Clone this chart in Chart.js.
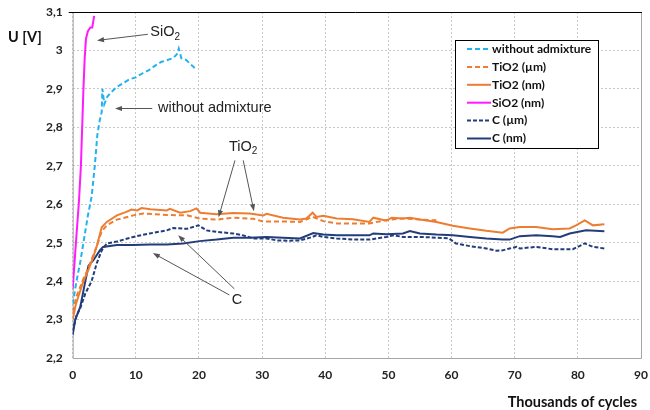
<!DOCTYPE html>
<html>
<head>
<meta charset="utf-8">
<script src="https://cdn.jsdelivr.net/npm/chart.js@4/dist/chart.umd.min.js"></script>
<style>
  html, body { margin: 0; padding: 0; background: #fff; }
  #wrap { width: 650px; height: 410px; position: relative; }
</style>
</head>
<body>
<div id="wrap"><canvas id="chart"></canvas></div>
<script>
// --- data: [thousands of cycles, U in V] ---
const noAdmix = [[0,2.34],[0.6,2.40],[1.2,2.45],[1.8,2.51],[2.4,2.57],[3.0,2.62],[3.5,2.70],[3.9,2.78],[4.3,2.82],[4.6,2.84],[4.7,2.90],[5.0,2.86],[5.5,2.88],[6,2.89],[7,2.905],[8,2.915],[9,2.925],[10,2.93],[11,2.94],[12,2.948],[13,2.96],[14,2.97],[15,2.975],[15.9,2.98],[16.5,2.99],[16.8,3.005],[17.2,2.98],[18,2.975],[18.6,2.965],[19.1,2.958],[19.5,2.95]];
const tio2Um = [[0,2.32],[0.6,2.36],[1.2,2.385],[1.8,2.41],[2.5,2.435],[3.2,2.465],[3.8,2.49],[4.6,2.53],[5.4,2.545],[7,2.56],[9.6,2.571],[11.2,2.576],[14.9,2.572],[18.1,2.571],[20.1,2.563],[22.8,2.56],[25.4,2.565],[28.6,2.562],[30.2,2.555],[33.3,2.555],[36,2.554],[38,2.567],[39.7,2.556],[41.8,2.55],[44.4,2.55],[47,2.55],[49.7,2.559],[52.3,2.563],[55,2.56],[57.6,2.558]];
const tio2Nm = [[0,2.30],[0.5,2.34],[1.2,2.375],[1.7,2.40],[2.5,2.43],[3.2,2.46],[3.8,2.49],[4.6,2.54],[5.4,2.554],[7,2.571],[8.5,2.58],[9.3,2.586],[10.2,2.584],[10.9,2.59],[12.3,2.587],[14.9,2.584],[15.4,2.588],[17,2.578],[18.6,2.582],[19.6,2.589],[20.2,2.578],[22.8,2.574],[25.4,2.577],[28,2.576],[30.2,2.571],[30.7,2.575],[33.3,2.565],[36,2.56],[37,2.563],[38,2.578],[38.6,2.567],[39.7,2.57],[41.8,2.563],[44.4,2.561],[47,2.554],[47.6,2.565],[49.7,2.557],[50.5,2.565],[52.3,2.563],[53.4,2.565],[55,2.56],[57.6,2.554],[60.2,2.544],[62.9,2.537],[65.5,2.531],[68.1,2.526],[69.2,2.537],[70.8,2.541],[73.4,2.541],[76,2.535],[78.7,2.537],[79.7,2.545],[81.1,2.558],[82.4,2.545],[84.2,2.548]];
const sio2Nm = [[0,2.38],[0.3,2.45],[0.6,2.52],[1.0,2.61],[1.3,2.70],[1.5,2.80],[1.7,2.90],[1.9,2.98],[2.1,3.03],[2.4,3.05],[2.8,3.06],[3.1,3.06],[3.3,3.08],[3.4,3.09]];
const cUm = [[0,2.27],[0.6,2.31],[1.2,2.33],[2,2.368],[3,2.40],[3.8,2.446],[4.6,2.48],[5.4,2.498],[7,2.503],[9.6,2.515],[12.2,2.524],[14.9,2.532],[15.9,2.538],[18.1,2.536],[19.9,2.545],[21.2,2.532],[22.8,2.528],[25.4,2.524],[27,2.519],[28.6,2.511],[30.7,2.511],[32.3,2.506],[34.4,2.505],[36,2.506],[37.6,2.513],[38.6,2.519],[39.7,2.515],[41.8,2.511],[44.4,2.508],[47,2.508],[49.7,2.515],[50.8,2.519],[52.3,2.515],[55,2.515],[57.6,2.513],[59.6,2.511],[60.7,2.498],[62.9,2.491],[65.5,2.485],[67.1,2.479],[68.1,2.48],[69.2,2.485],[70.3,2.489],[70.8,2.485],[73.4,2.489],[76,2.483],[79.2,2.483],[81.1,2.498],[82.4,2.489],[84.2,2.485]];
const cNm = [[0,2.26],[0.4,2.30],[1.2,2.333],[2,2.40],[2.5,2.44],[3.3,2.455],[4.3,2.48],[4.8,2.489],[7,2.494],[9.6,2.494],[12.3,2.495],[14.9,2.495],[17.5,2.498],[20.1,2.504],[22.8,2.508],[25.4,2.513],[28,2.513],[30.7,2.515],[33.3,2.513],[36,2.511],[38.1,2.525],[39.7,2.521],[41.8,2.519],[44.4,2.519],[47,2.519],[47.6,2.524],[49.7,2.522],[52.3,2.524],[53.4,2.53],[55,2.524],[57.6,2.521],[60.2,2.519],[62.9,2.515],[65.5,2.511],[68.1,2.508],[69.2,2.508],[70.8,2.517],[73.4,2.519],[76,2.517],[77.2,2.515],[78.7,2.524],[81.3,2.532],[84.2,2.53]];

const seriesLabels = ['without admixture', 'TiO2 (µm)', 'TiO2 (nm)', 'SiO2 (nm)', 'C (µm)', 'C (nm)'];
const seriesData = [noAdmix, tio2Um, tio2Nm, sio2Nm, cUm, cNm];
const xTicks = [0, 10, 20, 30, 40, 50, 60, 70, 80, 90];
const yTicks = [2.2, 2.3, 2.4, 2.5, 2.6, 2.7, 2.8, 2.9, 3.0, 3.1];

// text callouts, anchored in data units: label, text position, arrows [from, to]
const callouts = [
  { main: 'SiO', sub: '2', at: [12.3, 3.047], align: 'left', arrows: [[[11.9, 3.042], [3.85, 3.026]]] },
  { main: 'without admixture', sub: '', at: [13.5, 2.849], align: 'left', arrows: [[[12.6, 2.849], [6.7, 2.849]]] },
  { main: 'TiO', sub: '2', at: [27.0, 2.75], align: 'center', arrows: [[[25.7, 2.714], [23.1, 2.566]], [[27.0, 2.714], [28.7, 2.582]]] },
  { main: 'C', sub: '', at: [26.0, 2.35], align: 'center', arrows: [[[24.8, 2.364], [12.7, 2.473]], [[25.6, 2.38], [16.7, 2.519]]] }
];

const styles = [
  { color: '#22b2ee', dash: [5, 3] },
  { color: '#ed7d31', dash: [5, 3] },
  { color: '#ed7d31', dash: [] },
  { color: '#ff1aff', dash: [] },
  { color: '#233d7b', dash: [4, 2] },
  { color: '#233d7b', dash: [] }
];

const datasets = seriesData.map((d, i) => ({
  label: seriesLabels[i],
  data: d.map(p => ({ x: p[0], y: p[1] })),
  borderColor: styles[i].color,
  borderDash: styles[i].dash,
  borderWidth: 2,
  pointRadius: 0,
  tension: 0,
  fill: false
}));

const tickFont = { family: 'Lato', size: 12, weight: 'bold' };

function arrow(ctx, x1, y1, x2, y2) {
  const a = Math.atan2(y2 - y1, x2 - x1);
  const len = 7, w = 2.6;
  ctx.beginPath();
  ctx.moveTo(x1, y1);
  ctx.lineTo(x2 - Math.cos(a) * len * 0.8, y2 - Math.sin(a) * len * 0.8);
  ctx.stroke();
  ctx.beginPath();
  ctx.moveTo(x2, y2);
  ctx.lineTo(x2 - Math.cos(a) * len - Math.sin(a) * w, y2 - Math.sin(a) * len + Math.cos(a) * w);
  ctx.lineTo(x2 - Math.cos(a) * len + Math.sin(a) * w, y2 - Math.sin(a) * len - Math.cos(a) * w);
  ctx.closePath();
  ctx.fill();
}

// stop the scales from reserving room for overhanging tick labels
function noOverhang(s) {
  s.paddingLeft = 0; s.paddingRight = 0; s.paddingTop = 0; s.paddingBottom = 0;
}

const extras = {
  id: 'extras',
  beforeDatasetsDraw(chart) {
    const { ctx, chartArea: a } = chart;
    ctx.save();
    // frame: grey sides, black top
    ctx.lineWidth = 1;
    ctx.strokeStyle = '#a6a6a6';
    ctx.beginPath();
    ctx.moveTo(a.left + 0.5, a.top);
    ctx.lineTo(a.left + 0.5, a.bottom + 0.5);
    ctx.lineTo(a.right + 0.5, a.bottom + 0.5);
    ctx.lineTo(a.right + 0.5, a.top);
    ctx.stroke();
    ctx.strokeStyle = '#000';
    ctx.beginPath();
    ctx.moveTo(a.left - 4, a.top + 0.5);
    ctx.lineTo(a.right + 1, a.top + 0.5);
    ctx.stroke();
    ctx.restore();
  },
  afterDraw(chart) {
    const { ctx, chartArea: a } = chart;
    const sx = chart.scales.x, sy = chart.scales.y;
    ctx.save();

    // axis titles
    ctx.fillStyle = '#111';
    ctx.font = 'bold 14.5px Lato';
    ctx.textBaseline = 'middle';
    ctx.textAlign = 'left';
    ctx.fillText('U [V]', 8, 37);
    ctx.textAlign = 'right';
    ctx.fillText('Thousands of cycles', a.right - 4, 402);

    // callouts
    ctx.strokeStyle = '#555';
    ctx.fillStyle = '#555';
    ctx.lineWidth = 1;
    callouts.forEach(c => {
      c.arrows.forEach(ar => {
        arrow(ctx, sx.getPixelForValue(ar[0][0]), sy.getPixelForValue(ar[0][1]),
          sx.getPixelForValue(ar[1][0]), sy.getPixelForValue(ar[1][1]));
      });
    });
    ctx.fillStyle = '#222';
    callouts.forEach(c => {
      ctx.font = '14.5px "Liberation Sans"';
      const mw = ctx.measureText(c.main).width;
      ctx.font = '10px "Liberation Sans"';
      const sw = c.sub ? ctx.measureText(c.sub).width : 0;
      let x = sx.getPixelForValue(c.at[0]);
      const y = sy.getPixelForValue(c.at[1]);
      if (c.align === 'center') x -= (mw + sw) / 2;
      ctx.textAlign = 'left';
      ctx.textBaseline = 'middle';
      ctx.font = '14.5px "Liberation Sans"';
      ctx.fillText(c.main, x, y);
      if (c.sub) {
        ctx.font = '10px "Liberation Sans"';
        ctx.fillText(c.sub, x + mw, y + 5);
      }
    });

    // legend box
    const bx = 455, by = 40, bw = 143, bh = 108;
    ctx.fillStyle = '#fff';
    ctx.fillRect(bx, by, bw, bh);
    ctx.strokeStyle = '#000';
    ctx.lineWidth = 1;
    ctx.strokeRect(bx + 0.5, by + 0.5, bw, bh);
    ctx.font = 'bold 12px Lato';
    ctx.textAlign = 'left';
    ctx.textBaseline = 'middle';
    chart.data.datasets.forEach((ds, i) => {
      const y = by + 9 + i * 17.9;
      ctx.strokeStyle = ds.borderColor;
      ctx.lineWidth = 2;
      ctx.setLineDash(ds.borderDash);
      ctx.beginPath();
      ctx.moveTo(bx + 12, y);
      ctx.lineTo(bx + 36, y);
      ctx.stroke();
      ctx.setLineDash([]);
      ctx.fillStyle = '#111';
      ctx.fillText(ds.label, bx + 37, y);
    });
    ctx.restore();
  }
};

new Chart(document.getElementById('chart'), {
  type: 'line',
  data: { datasets },
  plugins: [extras],
  options: {
    responsive: true,
    maintainAspectRatio: false,
    animation: false,
    layout: { padding: { top: 12, right: 9, bottom: 0, left: 0 } },
    plugins: { legend: { display: false }, tooltip: { enabled: false } },
    scales: {
      x: {
        type: 'linear',
        min: 0, max: 90,
        afterBuildTicks: s => { s.ticks = xTicks.map(v => ({ value: v })); },
        afterFit: s => { s.height = 52; noOverhang(s); },
        grid: { color: '#c8c8c8', drawTicks: false },
        border: { display: false, dash: [2, 2] },
        ticks: { font: tickFont, color: '#222', padding: 10 }
      },
      y: {
        min: 2.2, max: 3.1,
        afterBuildTicks: s => { s.ticks = yTicks.map(v => ({ value: v })); },
        afterFit: s => { s.width = 72.7; noOverhang(s); },
        grid: { color: '#c8c8c8', drawTicks: false },
        border: { display: false, dash: [2, 2] },
        ticks: {
          font: tickFont, color: '#222', padding: 10,
          callback: v => String(Number(v.toFixed(1))).replace('.', ',')
        }
      }
    }
  }
});
</script>
</body>
</html>
